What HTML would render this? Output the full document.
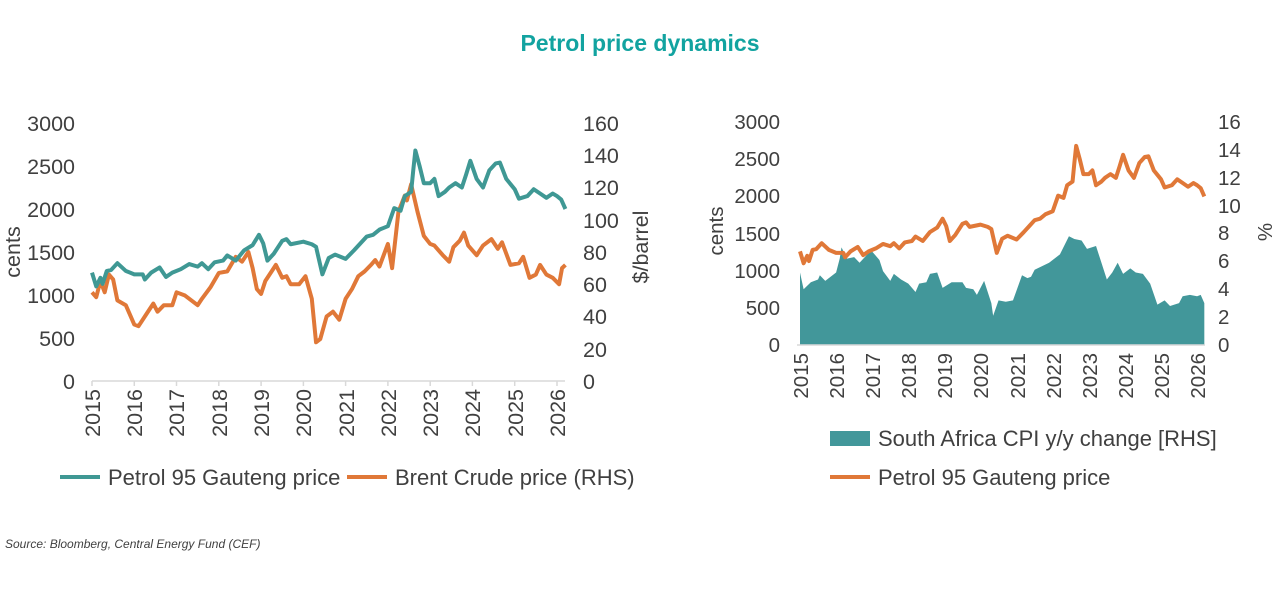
<!DOCTYPE html>
<html><head><meta charset="utf-8"><style>
body{margin:0;background:#fff;}
svg text{font-family:"Liberation Sans",Arial,sans-serif;fill:#404040;}
</style></head><body>
<svg width="1280" height="585" viewBox="0 0 1280 585" xmlns="http://www.w3.org/2000/svg">
<text x="640" y="51" text-anchor="middle" font-size="23" font-weight="bold" style="fill:#12a3a0">Petrol price dynamics</text>

<!-- LEFT CHART -->
<g font-size="21.5" text-anchor="end">
<text x="75" y="389">0</text><text x="75" y="346">500</text><text x="75" y="303">1000</text><text x="75" y="260">1500</text><text x="75" y="217">2000</text><text x="75" y="174">2500</text><text x="75" y="131">3000</text>
</g>
<g font-size="21.5" text-anchor="start">
<text x="583" y="389">0</text><text x="583" y="357">20</text><text x="583" y="324">40</text><text x="583" y="292">60</text><text x="583" y="260">80</text><text x="583" y="228">100</text><text x="583" y="195">120</text><text x="583" y="163">140</text><text x="583" y="131">160</text>
</g>
<text transform="translate(20,252) rotate(-90)" text-anchor="middle" font-size="21.5">cents</text>
<text transform="translate(648,247) rotate(-90)" text-anchor="middle" font-size="21.5">$/barrel</text>
<line x1="92" y1="381" x2="565" y2="381" stroke="#d9d9d9" stroke-width="1.5"/>
<g stroke="#d9d9d9" stroke-width="1.5">
<line x1="92" y1="381" x2="92" y2="386"/><line x1="134.3" y1="381" x2="134.3" y2="386"/><line x1="176.5" y1="381" x2="176.5" y2="386"/><line x1="218.8" y1="381" x2="218.8" y2="386"/><line x1="261.1" y1="381" x2="261.1" y2="386"/><line x1="303.4" y1="381" x2="303.4" y2="386"/><line x1="345.6" y1="381" x2="345.6" y2="386"/><line x1="387.9" y1="381" x2="387.9" y2="386"/><line x1="430.2" y1="381" x2="430.2" y2="386"/><line x1="472.4" y1="381" x2="472.4" y2="386"/><line x1="514.7" y1="381" x2="514.7" y2="386"/><line x1="557" y1="381" x2="557" y2="386"/>
</g>
<g font-size="21.5" text-anchor="end">
<text transform="translate(100,389) rotate(-90)">2015</text><text transform="translate(142,389) rotate(-90)">2016</text><text transform="translate(184,389) rotate(-90)">2017</text><text transform="translate(227,389) rotate(-90)">2018</text><text transform="translate(269,389) rotate(-90)">2019</text><text transform="translate(311,389) rotate(-90)">2020</text><text transform="translate(354,389) rotate(-90)">2021</text><text transform="translate(396,389) rotate(-90)">2022</text><text transform="translate(438,389) rotate(-90)">2023</text><text transform="translate(480,389) rotate(-90)">2024</text><text transform="translate(523,389) rotate(-90)">2025</text><text transform="translate(565,389) rotate(-90)">2026</text>
</g>
<g transform="translate(92,381) scale(42.27,-1.6125)">
<polyline fill="none" stroke="#e07838" stroke-width="4" vector-effect="non-scaling-stroke" stroke-linejoin="round" points="0,55 0.1,52 0.2,62 0.3,55 0.4,66 0.5,63 0.6,50 0.8,47 1.0,35 1.1,34 1.3,42 1.45,48 1.55,43 1.7,47 1.9,47 2.0,55 2.2,53 2.5,47 2.6,51 2.8,58 3.0,67 3.2,68 3.4,77 3.55,74 3.7,80 3.8,70 3.9,57 4.0,54 4.1,62 4.3,70 4.35,72 4.5,64 4.6,65 4.7,60 4.9,60 5.05,65 5.2,51 5.3,24 5.4,26 5.55,40 5.7,43 5.85,38 6.0,51 6.15,57 6.3,65 6.45,68 6.6,72 6.7,75 6.8,71 7.0,85 7.1,70 7.25,105 7.4,115 7.45,112 7.55,122 7.7,105 7.85,90 8.0,85 8.1,84 8.3,78 8.45,74 8.55,83 8.7,87 8.8,92 8.9,84 9.1,78 9.25,84 9.45,88 9.6,82 9.7,86 9.9,72 10.1,73 10.2,77 10.35,64 10.5,66 10.6,72 10.75,66 10.9,64 11.05,60 11.12,70 11.2,72"/>
</g>
<g transform="translate(92,381) scale(42.27,-0.086)">
<polyline fill="none" stroke="#3f9894" stroke-width="4" vector-effect="non-scaling-stroke" stroke-linejoin="round" points="0,1260 0.1,1100 0.2,1200 0.25,1130 0.35,1280 0.45,1290 0.6,1370 0.8,1280 1.0,1240 1.2,1240 1.25,1180 1.4,1260 1.6,1320 1.75,1210 1.9,1260 2.1,1300 2.3,1360 2.5,1330 2.6,1370 2.75,1300 2.9,1380 3.1,1400 3.2,1460 3.4,1400 3.6,1520 3.8,1580 3.95,1700 4.05,1600 4.15,1400 4.3,1480 4.5,1630 4.6,1650 4.7,1590 5.0,1620 5.2,1590 5.3,1560 5.45,1240 5.6,1430 5.75,1470 6.0,1420 6.2,1520 6.35,1600 6.5,1680 6.65,1700 6.8,1760 7.0,1800 7.15,2010 7.3,1980 7.4,2150 7.55,2200 7.6,2450 7.65,2680 7.75,2500 7.85,2300 8.0,2300 8.1,2350 8.2,2150 8.35,2200 8.45,2250 8.6,2300 8.75,2250 8.85,2400 8.95,2560 9.1,2350 9.25,2250 9.4,2450 9.55,2530 9.65,2540 9.8,2350 10.0,2230 10.1,2120 10.3,2150 10.45,2230 10.6,2180 10.75,2130 10.9,2180 11.0,2150 11.1,2110 11.2,2000"/>
</g>
<line x1="60" y1="477" x2="100" y2="477" stroke="#3f9894" stroke-width="4"/>
<text x="108" y="485" font-size="22">Petrol 95 Gauteng price</text>
<line x1="347" y1="477" x2="387" y2="477" stroke="#e07838" stroke-width="4"/>
<text x="395" y="485" font-size="22">Brent Crude price (RHS)</text>

<!-- RIGHT CHART -->
<g font-size="20.5" text-anchor="end">
<text x="780" y="352">0</text><text x="780" y="315">500</text><text x="780" y="278">1000</text><text x="780" y="241">1500</text><text x="780" y="203">2000</text><text x="780" y="166">2500</text><text x="780" y="129">3000</text>
</g>
<g font-size="20.5" text-anchor="start">
<text x="1218" y="352">0</text><text x="1218" y="324">2</text><text x="1218" y="296">4</text><text x="1218" y="268">6</text><text x="1218" y="240">8</text><text x="1218" y="213">10</text><text x="1218" y="185">12</text><text x="1218" y="157">14</text><text x="1218" y="129">16</text>
</g>
<text transform="translate(723,231) rotate(-90)" text-anchor="middle" font-size="20.5">cents</text>
<text transform="translate(1272,232) rotate(-90)" text-anchor="middle" font-size="20.5">%</text>
<g transform="translate(800,345) scale(36.1,-13.94)">
<polygon fill="#42979a" stroke="none" points="0,0 0,5.2 0.1,4.0 0.3,4.5 0.5,4.7 0.55,5.0 0.7,4.6 1.0,5.2 1.1,6.2 1.15,7.0 1.3,6.2 1.5,6.3 1.65,5.9 1.9,6.6 2.0,6.7 2.2,6.1 2.3,5.3 2.5,4.6 2.6,5.1 2.8,4.7 3.0,4.4 3.2,3.8 3.3,4.4 3.5,4.5 3.6,5.1 3.8,5.2 3.95,4.1 4.2,4.5 4.5,4.5 4.6,4.1 4.8,4.0 4.9,3.6 5.1,4.6 5.3,3.0 5.35,2.1 5.5,3.2 5.7,3.1 5.9,3.2 6.15,5.0 6.3,4.8 6.4,4.9 6.5,5.4 6.9,5.9 7.2,6.5 7.45,7.8 7.6,7.6 7.8,7.5 7.95,6.9 8.2,7.1 8.3,6.3 8.5,4.7 8.65,5.2 8.8,5.9 8.95,5.1 9.15,5.5 9.3,5.2 9.5,5.1 9.7,4.4 9.9,2.9 10.1,3.2 10.25,2.8 10.5,3.0 10.6,3.5 10.8,3.6 11.0,3.5 11.1,3.6 11.2,3.0 11.2,0"/>
</g>
<g transform="translate(800,345) scale(36.1,-0.0743)">
<polyline fill="none" stroke="#e07838" stroke-width="4" vector-effect="non-scaling-stroke" stroke-linejoin="round" points="0,1260 0.1,1100 0.2,1200 0.25,1130 0.35,1280 0.45,1290 0.6,1370 0.8,1280 1.0,1240 1.2,1240 1.25,1180 1.4,1260 1.6,1320 1.75,1210 1.9,1260 2.1,1300 2.3,1360 2.5,1330 2.6,1370 2.75,1300 2.9,1380 3.1,1400 3.2,1460 3.4,1400 3.6,1520 3.8,1580 3.95,1700 4.05,1600 4.15,1400 4.3,1480 4.5,1630 4.6,1650 4.7,1590 5.0,1620 5.2,1590 5.3,1560 5.45,1240 5.6,1430 5.75,1470 6.0,1420 6.2,1520 6.35,1600 6.5,1680 6.65,1700 6.8,1760 7.0,1800 7.15,2010 7.3,1980 7.4,2150 7.55,2200 7.6,2450 7.65,2680 7.75,2500 7.85,2300 8.0,2300 8.1,2350 8.2,2150 8.35,2200 8.45,2250 8.6,2300 8.75,2250 8.85,2400 8.95,2560 9.1,2350 9.25,2250 9.4,2450 9.55,2530 9.65,2540 9.8,2350 10.0,2230 10.1,2120 10.3,2150 10.45,2230 10.6,2180 10.75,2130 10.9,2180 11.0,2150 11.1,2110 11.2,2000"/>
</g>
<line x1="797" y1="345" x2="1205" y2="345" stroke="#d9d9d9" stroke-width="1.5"/>
<g font-size="20.5" text-anchor="end">
<text transform="translate(808,353) rotate(-90)">2015</text><text transform="translate(844,353) rotate(-90)">2016</text><text transform="translate(880,353) rotate(-90)">2017</text><text transform="translate(916,353) rotate(-90)">2018</text><text transform="translate(952,353) rotate(-90)">2019</text><text transform="translate(988,353) rotate(-90)">2020</text><text transform="translate(1025,353) rotate(-90)">2021</text><text transform="translate(1061,353) rotate(-90)">2022</text><text transform="translate(1097,353) rotate(-90)">2023</text><text transform="translate(1133,353) rotate(-90)">2024</text><text transform="translate(1169,353) rotate(-90)">2025</text><text transform="translate(1205,353) rotate(-90)">2026</text>
</g>
<rect x="830" y="431" width="40" height="15" fill="#42979a"/>
<text x="878" y="446" font-size="22">South Africa CPI y/y change [RHS]</text>
<line x1="830" y1="477" x2="870" y2="477" stroke="#e07838" stroke-width="4"/>
<text x="878" y="485" font-size="22">Petrol 95 Gauteng price</text>

<text x="5" y="548" font-size="12" font-style="italic">Source: Bloomberg, Central Energy Fund (CEF)</text>
</svg>
</body></html>
